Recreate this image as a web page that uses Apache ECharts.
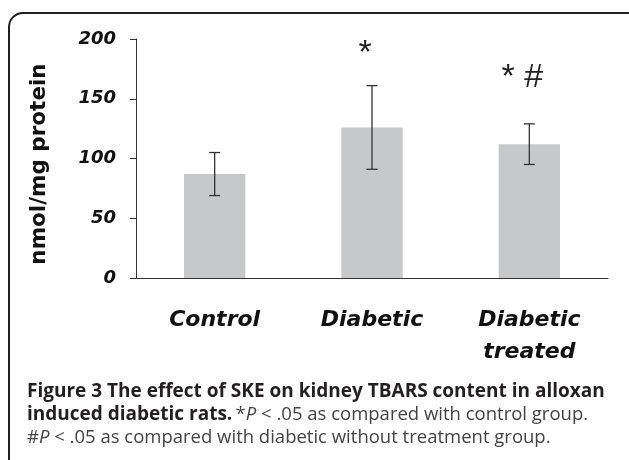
<!DOCTYPE html>
<html>
<head>
<meta charset="utf-8">
<script src="https://cdn.jsdelivr.net/npm/echarts@6/dist/echarts.min.js"></script>
<style>
  html, body { margin: 0; padding: 0; background: #fff; }
  #chart { width: 629px; height: 460px; }
</style>
</head>
<body>
<div id="chart"></div>
<script>
var categories = ['Control', 'Diabetic', 'Diabetic\ntreated'];
var meanValues = [87, 126, 112];
var errValues = [18, 35, 17];
var sigLabels = ['', '*', '* #'];
var sigLevels = [null, 202, 182];
var yTicks = [0, 50, 100, 150, 200];

var chart = echarts.init(document.getElementById('chart'));

var errData = [];
for (var i = 0; i < meanValues.length; i++) {
	errData.push([i, meanValues[i] - errValues[i], meanValues[i] + errValues[i]]);
}
var sigData = [];
for (var i = 0; i < sigLabels.length; i++) {
	if (sigLabels[i]) sigData.push([i, sigLevels[i], sigLabels[i]]);
}

var option = {
	animation: false,
	grid: { left: 136, right: 21, top: 39, bottom: 182 },
	xAxis: {
		type: 'category',
		data: categories,
		axisLine: { lineStyle: { color: '#333', width: 1 } },
		axisTick: { length: 7, lineStyle: { color: '#333' } },
		axisLabel: {
			margin: 26,
			color: '#111',
			fontFamily: 'DejaVu Sans',
			fontWeight: 'bold',
			fontStyle: 'italic',
			fontSize: 22,
			lineHeight: 32
		}
	},
	yAxis: {
		type: 'value',
		min: yTicks[0],
		max: yTicks[yTicks.length - 1],
		interval: 50,
		name: 'nmol/mg protein',
		nameLocation: 'middle',
		nameRotate: 90,
		nameGap: 86,
		nameTextStyle: {
			color: '#111',
			fontFamily: 'DejaVu Sans',
			fontWeight: 'bold',
			fontSize: 21.5,
			padding: [0, 11, 0, 0]
		},
		axisLine: { show: true, lineStyle: { color: '#333', width: 1 } },
		axisTick: { show: true, length: 6, lineStyle: { color: '#333' } },
		splitLine: { show: false },
		axisLabel: {
			margin: 20,
			color: '#111',
			fontFamily: 'DejaVu Sans',
			fontWeight: 'bold',
			fontStyle: 'italic',
			fontSize: 18
		}
	},
	series: [{
		type: 'bar',
		data: meanValues,
		barWidth: '39%',
		itemStyle: { color: '#c7c8ca' }
	}, {
		type: 'custom',
		data: errData,
		z: 5,
		renderItem: function (params, api) {
			var lo = api.coord([api.value(0), api.value(1)]);
			var hi = api.coord([api.value(0), api.value(2)]);
			var cap = 5.5;
			var st = { stroke: '#333', lineWidth: 1.3 };
			return {
				type: 'group',
				children: [
					{ type: 'line', shape: { x1: hi[0], y1: hi[1], x2: lo[0], y2: lo[1] }, style: st },
					{ type: 'line', shape: { x1: hi[0] - cap, y1: hi[1], x2: hi[0] + cap, y2: hi[1] }, style: st },
					{ type: 'line', shape: { x1: lo[0] - cap, y1: lo[1], x2: lo[0] + cap, y2: lo[1] }, style: st }
				]
			};
		}
	}, {
		type: 'custom',
		data: sigData,
		z: 6,
		renderItem: function (params, api) {
			var p = api.coord([api.value(0), api.value(1)]);
			return {
				type: 'text',
				x: p[0] - 7,
				y: p[1],
				style: {
					text: sigLabels[api.value(0)],
					fill: '#222',
					font: '34px "Liberation Sans"',
					align: 'center',
					verticalAlign: 'top'
				}
			};
		}
	}],
	graphic: [{
		type: 'rect',
		shape: { x: 9, y: 13, width: 640, height: 480, r: 14 },
		style: { fill: 'none', stroke: '#222', lineWidth: 2 },
		silent: true
	}, {
		type: 'text',
		left: 27,
		top: 382,
		style: {
			text: 'Figure 3 The effect of SKE on kidney TBARS content in alloxan',
			font: 'bold 19px "Open Sans"',
			fill: '#231f20'
		}
	}, {
		type: 'text',
		left: 27,
		top: 405,
		style: {
			text: '{b|induced diabetic rats.} {r|*}{i|P}{r| < .05 as compared with control group.}',
			rich: {
				b: { font: 'bold 19px "Open Sans"', fill: '#231f20' },
				r: { font: '18.5px "Open Sans"', fill: '#444' },
				i: { font: 'italic 18.5px "Open Sans"', fill: '#444' }
			}
		}
	}, {
		type: 'text',
		left: 27,
		top: 428,
		style: {
			text: '{r|#}{i|P}{r| < .05 as compared with diabetic without treatment group.}',
			rich: {
				r: { font: '18.5px "Open Sans"', fill: '#444' },
				i: { font: 'italic 18.5px "Open Sans"', fill: '#444' }
			}
		}
	}]
};

chart.setOption(option);
</script>
</body>
</html>
